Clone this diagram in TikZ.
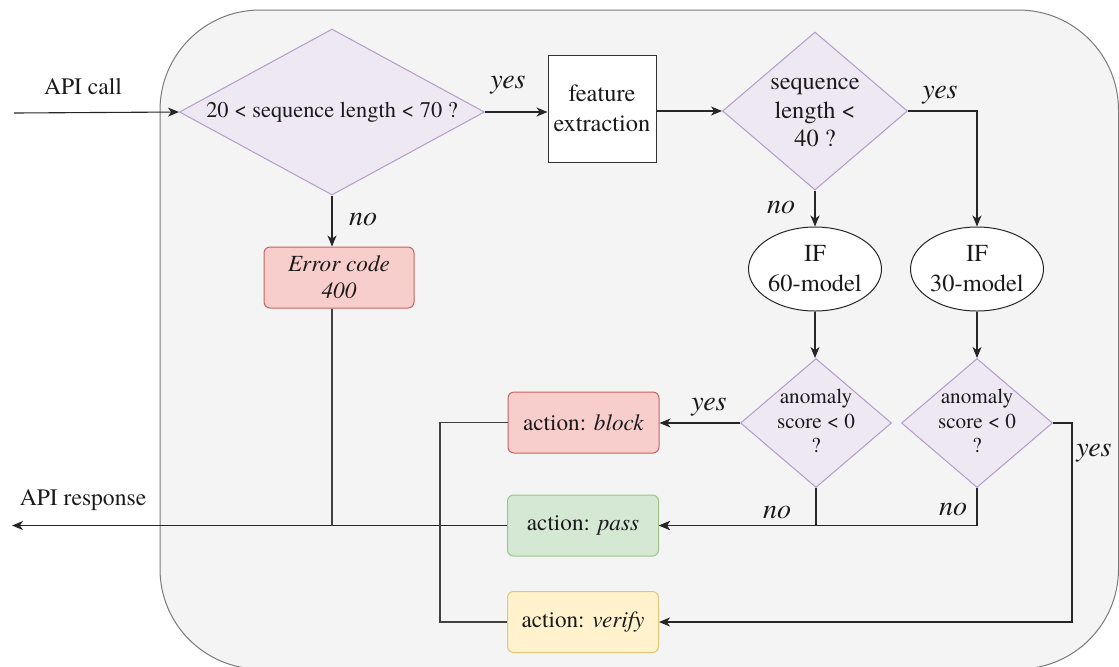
\documentclass[tikz,border=0pt]{standalone}
\usepackage{fontspec}
\setmainfont{texgyretermes}[Extension=.otf, UprightFont=*-regular, ItalicFont=*-italic, BoldFont=*-bold, BoldItalicFont=*-bolditalic]
\usetikzlibrary{shapes.geometric,arrows.meta}

\definecolor{bgfill}{HTML}{F4F4F4}
\definecolor{bgline}{HTML}{7A7A7A}
\definecolor{diafill}{HTML}{EEE8F3}
\definecolor{dialine}{HTML}{B39CC9}
\definecolor{redfill}{HTML}{F8CECC}
\definecolor{redline}{HTML}{C8625E}
\definecolor{greenfill}{HTML}{D5E8D4}
\definecolor{greenline}{HTML}{9CC48A}
\definecolor{yellowfill}{HTML}{FFF2CC}
\definecolor{yellowline}{HTML}{E0C878}
\definecolor{ink}{HTML}{1A1A1A}

\begin{document}
% one coordinate unit is half a point; positions are given in those units
\begin{tikzpicture}[x=0.5pt,y=-0.5pt,
  every node/.style={text=ink},
  flow/.style={draw=black!85, line width=0.55pt, -{Stealth[length=5.5pt,width=4.5pt,inset=1.6pt]}},
  link/.style={draw=black!75, line width=0.55pt},
  decision/.style={diamond, draw=dialine, fill=diafill, line width=0.5pt, inner sep=0pt},
  dtext/.style={align=center, inner sep=0pt},
  plainbox/.style={rectangle, draw=black!80, fill=white, line width=0.5pt, align=center,
    minimum width=54pt, minimum height=53.5pt, inner sep=0pt, font=\fontsize{12.2}{15}\selectfont},
  model/.style={ellipse, draw=black!85, fill=white, line width=0.5pt, align=center,
    minimum width=66.5pt, minimum height=42pt, inner sep=0pt, font=\fontsize{12.2}{15}\selectfont},
  action/.style={rectangle, rounded corners=3pt, line width=0.5pt, align=center,
    minimum width=75.5pt, minimum height=30.5pt, inner sep=0pt, font=\fontsize{11.6}{13.5}\selectfont},
  branch/.style={font=\fontsize{14}{15}\selectfont\itshape, inner sep=0pt},
  io/.style={font=\fontsize{11.8}{14}\selectfont, inner sep=0pt}
]
\useasboundingbox (0,0) rectangle (1119,666);

% container
\draw[fill=bgfill, draw=bgline, line width=0.5pt, rounded corners=50pt]
  (160,10) rectangle (1118.5,669);

% decisions
\node[decision, minimum width=152.5pt, minimum height=83pt] (d1) at (332,112) {};
\node[dtext, font=\fontsize{11.2}{13}\selectfont] (d1t) at (d1) {20 < sequence length < 70 ?};

\node[decision, minimum width=92.5pt, minimum height=79pt] (d2) at (815,111) {};
\node[dtext, font=\fontsize{12.2}{14.25}\selectfont] (d2t) at (815,113) {sequence\\length <\\40 ?};

\node[decision, minimum width=75.5pt, minimum height=64.5pt] (a1) at (816,423) {};
\node[dtext, font=\fontsize{10.6}{12.25}\selectfont] (a1t) at (816,421) {anomaly\\score < 0\\?};

\node[decision, minimum width=75.5pt, minimum height=64.5pt] (a2) at (977,423) {};
\node[dtext, font=\fontsize{10.6}{12.25}\selectfont] (a2t) at (977,421) {anomaly\\score < 0\\?};

% processing steps
\node[plainbox] (fe) at (602,108.5) {feature\\extraction};
\node[model] (if60) at (815,269) {IF\\60-model};
\node[model] (if30) at (977,269) {IF\\30-model};

% outcomes
\node[action, fill=redfill, draw=redline, minimum width=75pt] (err) at (339,277.5)
  {\itshape Error code\\\itshape 400};
\node[action, fill=redfill, draw=redline] (block) at (583.5,422.5) {action: \textit{block}};
\node[action, fill=greenfill, draw=greenline] (pass) at (583,525.5) {action: \textit{pass}};
\node[action, fill=yellowfill, draw=yellowline] (verify) at (583,622) {action: \textit{verify}};

% input / output
\node[io] (callt) at (83,87) {API call};
\node[io] (respt) at (83,500) {API response};
\coordinate (in) at (14,113);
\coordinate (out) at (12,527);
\coordinate (lturn) at (440,0);
\coordinate (rturn) at (1072,0);

% connectors
\draw[flow] (in) -- (d1.west);
\draw[flow] (d1.east) -- (d1.east -| fe.west);
\draw[flow] (d1.south) -- (d1.south |- err.north);
\draw[flow] (fe.east |- d2.west) -- (d2.west);
\draw[flow] (d2.east) -| (if30.north);
\draw[flow] (d2.south) -- (if60.north);
\draw[flow] (if60.south) -- (if60.south |- a1.north);
\draw[flow] (if30.south) -- (a2.north);
\draw[flow] (a1.west) -- (a1.west -| block.east);
\draw[flow] (a1.south) |- (pass.east);
\draw[flow] (a2.south) |- (pass.east);
\draw[flow] (a2.east) -- (a2.east -| rturn) |- (verify.east);
\draw[flow] (pass.west) -- (pass.west -| out);
\draw[link] (d1.south |- err.south) -- (d1.south |- pass.west);
\draw[link] (block.west) -- (block.west -| lturn) |- (verify.west);

% branch labels
\node[branch] (y1) at (508,85) {yes};
\node[branch] (n1) at (363,219) {no};
\node[branch] (y2) at (940,95) {yes};
\node[branch] (n2) at (781,207) {no};
\node[branch] (y3) at (709,407) {yes};
\node[branch] (n3) at (777,512) {no};
\node[branch] (n4) at (953,509) {no};
\node[branch] (y4) at (1094,453) {yes};
\end{tikzpicture}
\end{document}
